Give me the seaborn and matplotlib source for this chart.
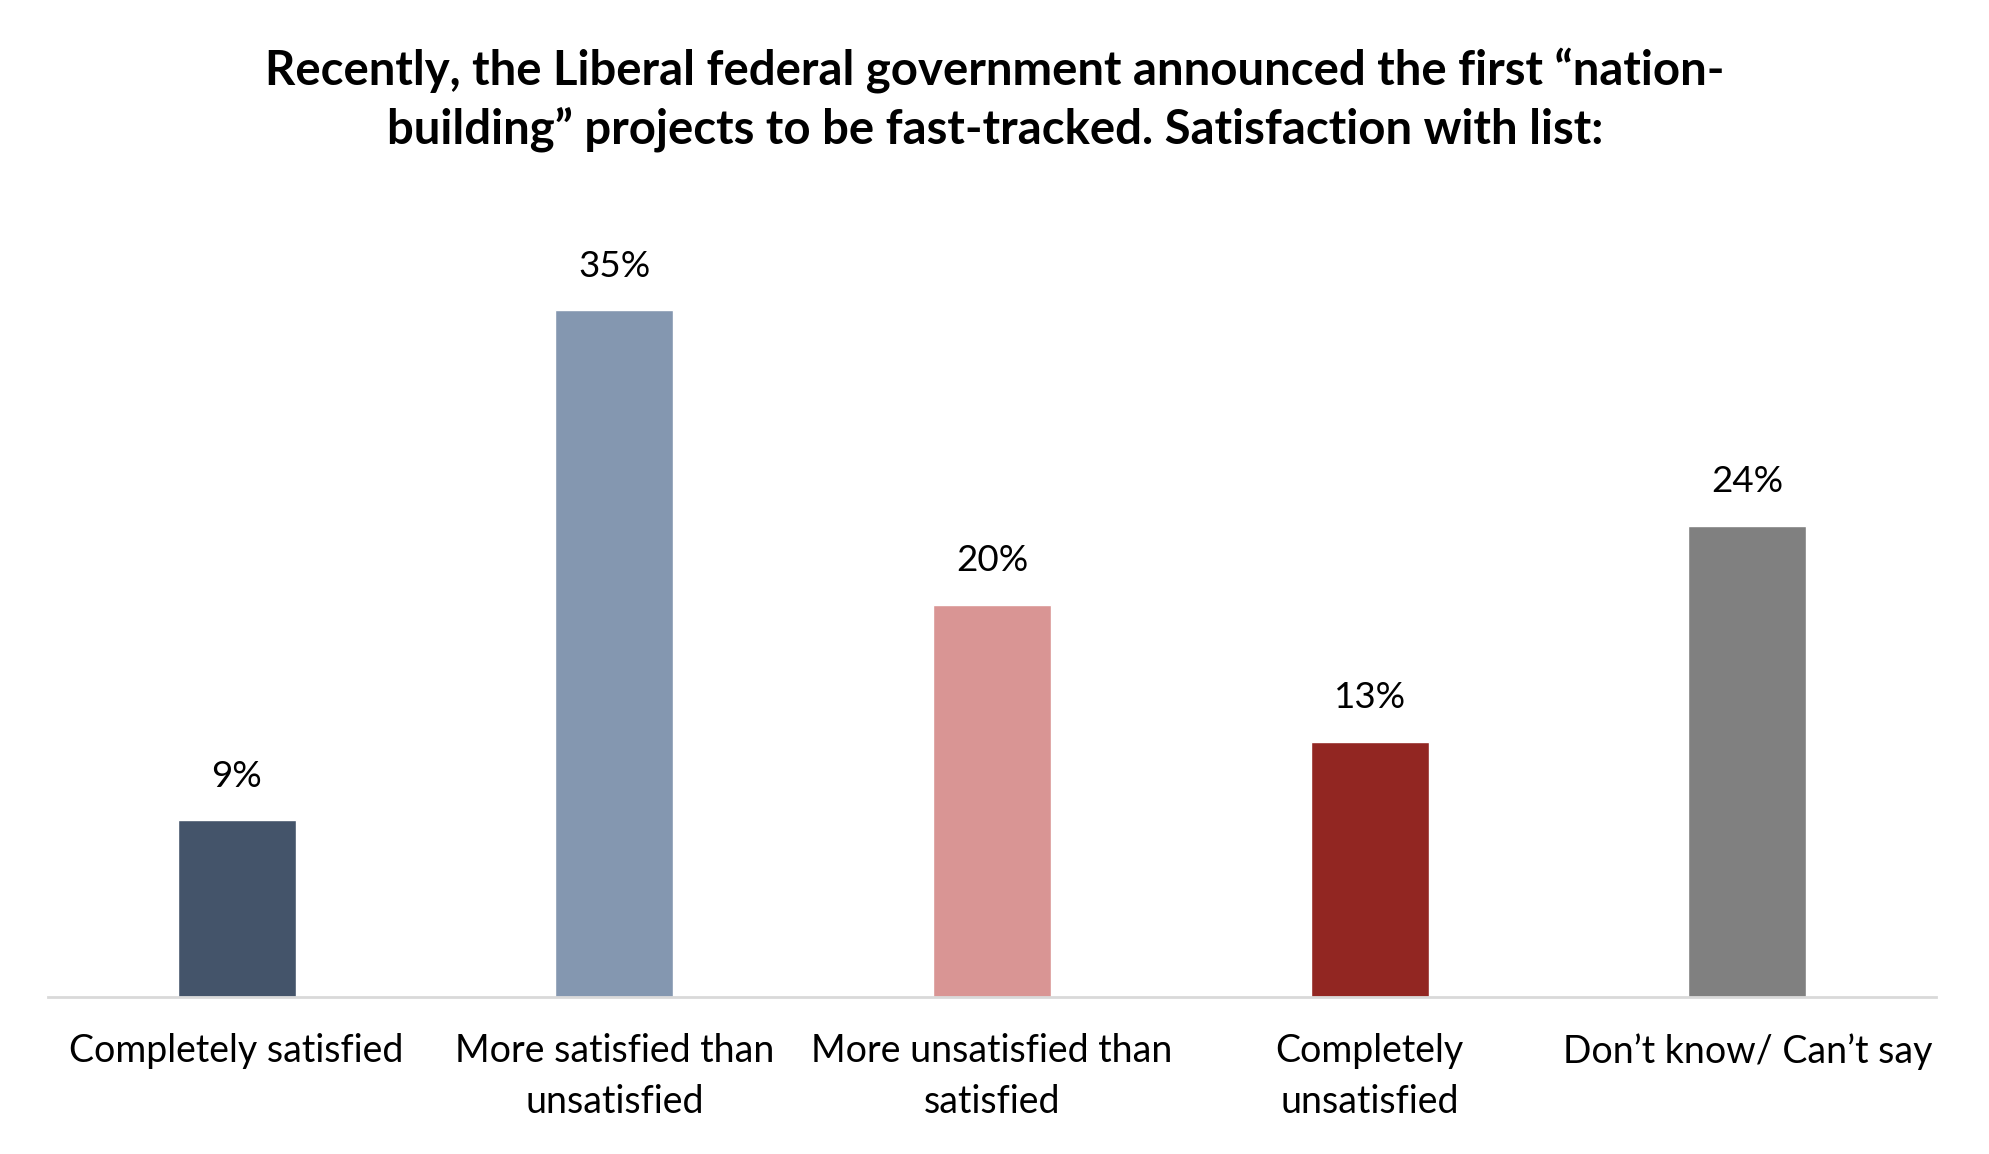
import numpy as np
import seaborn as sns
import pandas as pd
import matplotlib.pyplot as plt

categories = ["Completely satisfied", "More satisfied than\nunsatisfied",
              "More unsatisfied than\nsatisfied", "Completely\nunsatisfied",
              "Don\u2019t know/ Can\u2019t say"]
values = [9, 35, 20, 13, 24]
colors = ["#44546A", "#8497B0", "#D99594", "#922622", "#808080"]

df = pd.DataFrame({"answer": categories, "pct": values})

sns.set_theme(style="white")
plt.rcParams["font.family"] = ["Lato", "DejaVu Sans"]

fig = plt.figure(figsize=(19.9, 11.54), dpi=100)
ax = fig.add_axes([0.024, 0.136, 0.949, 0.68])

sns.barplot(data=df, x="answer", y="pct", hue="answer", palette=colors,
            width=0.3125, legend=False, saturation=1, ax=ax)

for c in ax.containers:
    ax.bar_label(c, fmt="%d%%", padding=20, fontsize=26.5, color="black")

ax.set_xlim(-0.5, 4.5)
ax.set_ylim(0, 40)
ax.set_xlabel("")
ax.set_ylabel("")
ax.set_yticks([])
ax.tick_params(axis="x", length=0, pad=26, labelsize=27, labelcolor="black")
for lbl in ax.get_xticklabels():
    lbl.set_linespacing(1.5)
for s in ["top", "left", "right"]:
    ax.spines[s].set_visible(False)
ax.spines["bottom"].set_color("#D9D9D9")
ax.spines["bottom"].set_linewidth(2)

fig.text(0.5, 0.914, "Recently, the Liberal federal government announced the first \u201cnation-\n"
         "building\u201d projects to be fast-tracked. Satisfaction with list:",
         ha="center", va="center", fontsize=34, fontweight="bold",
         linespacing=1.36, color="black")

fig.savefig("out.png", dpi=100, facecolor="white")
